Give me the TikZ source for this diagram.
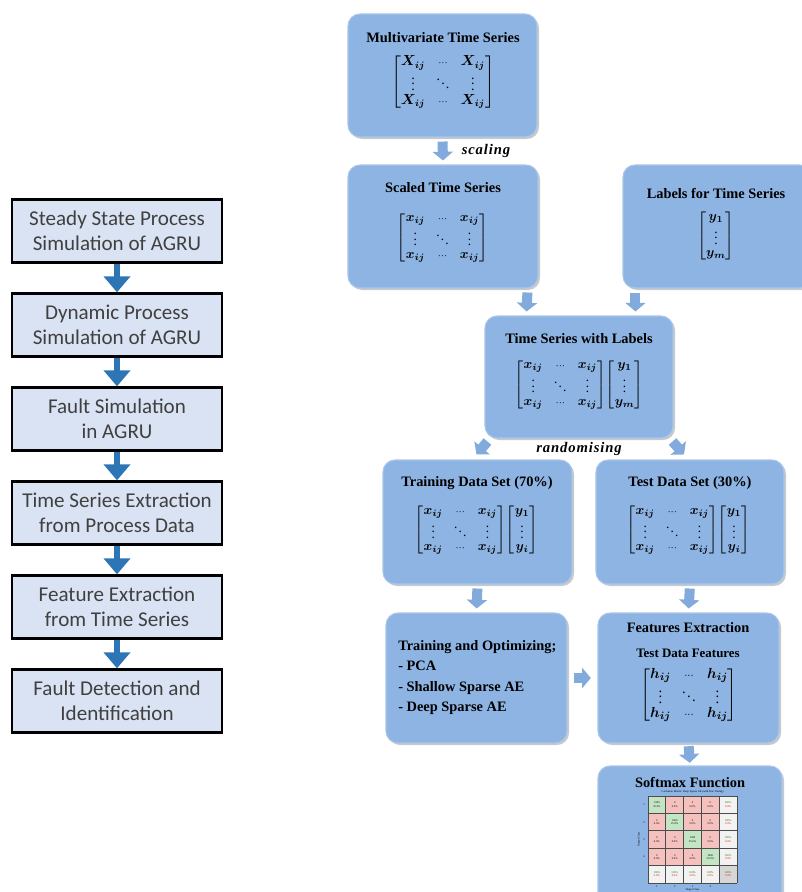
\documentclass[tikz,border=0pt]{standalone}
\usepackage{fontspec}
\usepackage{amsmath,bm}
\setmainfont{Liberation Serif}
\newfontfamily\calib{Carlito}
\newfontfamily\spaced[LetterSpace=6]{Liberation Serif}
\usetikzlibrary{arrows.meta,shadows}
\definecolor{lfill}{HTML}{DAE3F3}
\definecolor{ltext}{HTML}{404040}
\definecolor{larr}{HTML}{2E75B6}
\definecolor{rfill}{HTML}{8DB4E2}
\definecolor{redge}{HTML}{A9C6EA}
\definecolor{rarr}{HTML}{82AADC}
\definecolor{cgreen}{HTML}{C3E5C4}
\definecolor{cred}{HTML}{F5C1BE}
\definecolor{cgrey}{HTML}{F2F2F2}
\definecolor{cdark}{HTML}{D6D6D6}
\setlength{\arraycolsep}{4pt}
\newcommand{\rbox}[5]{\node[rbox, minimum width={(#4-#2)*0.75pt}, minimum height={(#5-#3)*0.75pt}] (#1) at ({(#2+#4)/2},{(#3+#5)/2}) {};}
\newcommand{\myvd}{{\scriptstyle\vdots}}
\newcommand{\mydd}{{\scriptstyle\ddots}}
\newcommand{\mycd}{{\scriptstyle\cdots}}
\newcommand{\xmat}[1]{\renewcommand{\arraystretch}{0.85}\begin{bmatrix}\bm{#1} & \mycd & \bm{#1}\\ \myvd & \mydd & \myvd\\ \bm{#1} & \mycd & \bm{#1}\end{bmatrix}}
\newcommand{\ymat}[1]{\renewcommand{\arraystretch}{0.85}\begin{bmatrix}\bm{y_1}\\ \myvd\\ \bm{y_{#1}}\end{bmatrix}}
\begin{document}
\begin{tikzpicture}[x=0.75pt,y=-0.75pt,
  lbox/.style={draw=black, line width=2pt, fill=lfill, text=ltext,
    font=\calib\fontsize{15.8}{19}\selectfont, align=center,
    minimum width=157.5pt, minimum height=47pt, inner sep=0pt},
  larrow/.style={draw=larr, line width=5pt, -{Triangle[width=19.5pt,length=12pt]}},
  rbox/.style={rounded corners=9pt, fill=rfill, draw=redge, line width=0.8pt,
    drop shadow={shadow xshift=1.5pt, shadow yshift=-1.5pt, opacity=0.35, fill=black!60}},
  rarrow/.style={draw=rarr, line width=7.5pt, -{Triangle[width=15pt,length=6.5pt]},
    shorten <=3pt, shorten >=3pt},
  ttl/.style={font=\bfseries\fontsize{10.8}{13}\selectfont, inner sep=0pt},
  mat/.style={font=\fontsize{10}{11}\selectfont, inner sep=0pt},
  tag/.style={font=\spaced\bfseries\itshape\fontsize{11}{13}\selectfont, inner sep=0pt},
  tiny/.style={font=\fontsize{2.1}{2.5}\selectfont, inner sep=0pt, align=center}
]
\useasboundingbox (0,0) rectangle (801,892);
\fill[white] (0,0) rectangle (801,892);

% ---------- left flow ----------
\node[lbox] (b1) at (117,231) {Steady State Process\\Simulation of AGRU};
\node[lbox] (b2) at (117,325) {Dynamic Process\\Simulation of AGRU};
\node[lbox] (b3) at (117,419) {Fault Simulation\\in AGRU};
\node[lbox] (b4) at (117,513) {Time Series Extraction\\from Process Data};
\node[lbox] (b5) at (117,607) {Feature Extraction\\from Time Series};
\node[lbox] (b6) at (117,701) {Fault Detection and\\Identification};
\foreach \a/\b in {b1/b2,b2/b3,b3/b4,b4/b5,b5/b6}
  \draw[larrow] (\a.south) -- (\b.north);

% ---------- right flow ----------
\rbox{mts}{348}{14}{537}{137}
\rbox{sts}{348}{165}{538}{288}
\rbox{lts}{623}{165}{812}{288}
\rbox{tsl}{485}{316}{673}{438}
\rbox{trn}{383}{460}{572}{584}
\rbox{tst}{596}{460}{784}{584}
\rbox{opt}{386}{613}{567}{743}
\rbox{fe}{598}{613}{779}{743}
\rbox{sm}{598}{766}{782}{905}

\node[ttl] (mtsT) at (443,38) {Multivariate Time Series};
\node[mat, font=\fontsize{10.5}{11.5}\selectfont] (mtsM) at (443,82) {$\xmat{X_{ij}}$};
\node[ttl] (stsT) at (443,188) {Scaled Time Series};
\node[mat] (stsM) at (442.5,237.5) {$\xmat{x_{ij}}$};
\node[ttl] (ltsT) at (716,193) {Labels for Time Series};
\node[mat] (ltsM) at (716,236) {$\ymat{m}$};
\node[ttl] (tslT) at (579,339) {Time Series with Labels};
\node[mat] (tslM) at (579,384.5) {$\xmat{x_{ij}}\!\ymat{m}$};
\node[ttl] (trnT) at (477,483) {Training Data Set (70\%)};
\node[mat] (trnM) at (476.5,530) {$\xmat{x_{ij}}\!\ymat{i}$};
\node[ttl] (tstT) at (690,483) {Test Data Set (30\%)};
\node[mat] (tstM) at (688.5,530) {$\xmat{x_{ij}}\!\ymat{i}$};
\node[ttl, anchor=west, align=left, font=\bfseries\fontsize{10.8}{15.3}\selectfont] (optT) at (398,677.5)
  {Training and Optimizing;\\- PCA\\- Shallow Sparse AE\\- Deep Sparse AE};
\node[ttl] (feT) at (688,628) {Features Extraction};
\node[ttl, font=\bfseries\fontsize{9.7}{11}\selectfont] (feS) at (688,653) {Test Data Features};
\node[mat, font=\fontsize{11}{12}\selectfont] (feM) at (689,695) {$\xmat{h_{ij}}$};
\node[ttl] (smT) at (690,783) {Softmax Function};

\node[tag] (scl) at (486,151) {scaling};
\node[tag] (rnd) at (579,449) {randomising};

% connectors
\draw[rarrow] (mts.south) -- (sts.north);
\draw[rarrow] ([shift={(-11,0)}]sts.south east) -- ([shift={(42,0)}]tsl.north west);
\draw[rarrow] ([shift={(13,0)}]lts.south west) -- ([shift={(151,0)}]tsl.north west);
\draw[rarrow, shorten <=0pt, shorten >=0pt] ([shift={(3,3)}]tsl.south west) -- ([shift={(-1,-5)}]trn.north);
\draw[rarrow, shorten <=0pt, shorten >=0pt] ([shift={(-1,3)}]tsl.south east) -- ([shift={(-6,-5)}]tst.north);
\draw[rarrow] (trn.south) -- (opt.north);
\draw[rarrow] (tst.south) -- (fe.north);
\draw[rarrow, shorten <=5pt, shorten >=5pt] (opt.east) -- (fe.west);
\draw[rarrow, shorten <=2pt, shorten >=2pt] (fe.south) -- (sm.north);

% ---------- confusion matrix ----------
\def\cw{17.8}\def\ch{17.4}
\fill[cred] (648,796) rectangle (719.2,865.6);
\fill[cgrey] (719.2,796) rectangle (737,883);
\fill[cgrey] (648,865.6) rectangle (737,883);
\fill[cdark] (719.2,865.6) rectangle (737,883);
\foreach \i in {0,...,3}
  \fill[cgreen] ({648+\cw*\i},{796+\ch*\i}) rectangle ++(\cw,\ch);
\foreach \i in {0,...,5} {
  \draw[black!70, line width=0.6pt] ({648+\cw*\i},796) -- ({648+\cw*\i},883);
  \draw[black!70, line width=0.6pt] (648,{796+\ch*\i}) -- (737,{796+\ch*\i});
}
\foreach \r in {0,...,3} {
  \foreach \c in {0,...,3} {
    \ifnum\r=\c
      \node[tiny] at ({648+\cw*(\c+0.5)},{796+\ch*(\r+0.5)}) {1000\\25.0\%};
    \else
      \node[tiny] at ({648+\cw*(\c+0.5)},{796+\ch*(\r+0.5)}) {0\\0.0\%};
    \fi
  }
  \node[tiny] at ({648+\cw*4.5},{796+\ch*(\r+0.5)}) {\textcolor{green!50!black}{100\%}\\\textcolor{red}{0.0\%}};
  \node[tiny] at ({648+\cw*(\r+0.5)},{796+\ch*4.5}) {\textcolor{green!50!black}{100\%}\\\textcolor{red}{0.0\%}};
  \node[tiny] at ({648+\cw*(\r+0.5)},886.5) {\the\numexpr\r+1\relax};
  \node[tiny] at (644,{796+\ch*(\r+0.5)}) {\the\numexpr\r+1\relax};
}
\node[tiny] at ({648+\cw*4.5},{796+\ch*4.5}) {\textcolor{green!50!black}{100\%}\\\textcolor{red}{0.0\%}};
\node[tiny] (cmT) at (692.5,792) {Confusion Matrix: Deep Sparse AE (with Fine Tuning)};
\node[tiny] (cmX) at (692.5,890) {Target Class};
\node[tiny, rotate=90] (cmY) at (639,839.5) {Output Class};
\end{tikzpicture}
\end{document}
